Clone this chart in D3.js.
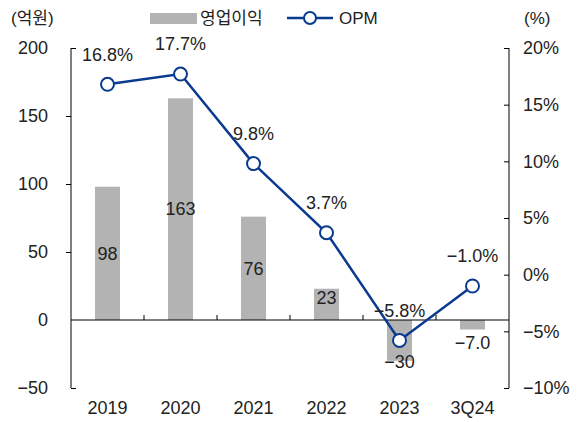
<!DOCTYPE html>
<html>
<head>
<meta charset="utf-8">
<script src="https://cdn.jsdelivr.net/npm/d3@7"></script>
<style>
  body { margin: 0; background: #fff; }
  text { font-family: "Liberation Sans", Arial, "Noto Sans CJK KR", sans-serif; fill: #222; }
</style>
</head>
<body>
<div id="chart"></div>
<script>
// 데이터
var categories = ["2019", "2020", "2021", "2022", "2023", "3Q24"];
var profit = [98, 163, 76, 23, -30, -7.0];          // 영업이익 (억원)
var profitLabels = ["98", "163", "76", "23", "\u221230", "\u22127.0"];
var opm = [16.8, 17.7, 9.8, 3.7, -5.8, -1.0];       // OPM (%)
var opmLabels = ["16.8%", "17.7%", "9.8%", "3.7%", "\u22125.8%", "\u22121.0%"];
var leftTicks = [200, 150, 100, 50, 0, -50];
var rightTicks = [20, 15, 10, 5, 0, -5, -10];

var W = 580, H = 422;
var blue = "#0a3a8f", gray = "#b3b3b3";
var fs = 18;

var svg = d3.select("#chart").append("svg").attr("width", W).attr("height", H);

var x = d3.scaleBand().domain(categories).range([71, 509]).padding(0);
var yL = d3.scaleLinear().domain([-50, 200]).range([388, 48]);
var yR = d3.scaleLinear().domain([-10, 20]).range([388, 48]);

function minus(v) { return String(v).replace("-", "\u2212"); }

// 막대
var barW = 25;
svg.selectAll("rect.bar").data(profit).enter().append("rect")
    .attr("class", "bar")
    .attr("x", function (d, i) { return x(categories[i]) + x.bandwidth() / 2 - barW / 2; })
    .attr("y", function (d) { return yL(Math.max(0, d)); })
    .attr("width", barW)
    .attr("height", function (d) { return Math.abs(yL(d) - yL(0)); })
    .attr("fill", gray);

// 막대 라벨
svg.selectAll("text.blab").data(profit).enter().append("text")
    .attr("class", "blab")
    .attr("x", function (d, i) { return x(categories[i]) + x.bandwidth() / 2; })
    .attr("y", function (d) {
        if (d > 0) {
            var h = yL(0) - yL(d);
            return h < 40 ? yL(d) + 9 : (yL(d) + yL(0)) / 2;
        }
        return d < -20 ? yL(d) + 1 : yL(d) + 13;
    })
    .attr("dy", "0.35em")
    .attr("text-anchor", "middle")
    .attr("font-size", fs)
    .text(function (d, i) { return profitLabels[i]; });

// 왼쪽 축
var axL = svg.append("g").attr("transform", "translate(71,0)")
    .call(d3.axisLeft(yL).tickValues(leftTicks).tickSize(5).tickPadding(18).tickFormat(minus));
axL.select(".domain").remove();
axL.selectAll(".tick line").attr("stroke", "#000")
    .attr("x2", function (d) { return (d == 200 || d == -50) ? 5 : (d == 0 ? 0 : -5); });
axL.selectAll(".tick text").attr("font-size", fs).attr("fill", "#222").attr("font-family", null);
svg.append("line").attr("x1", 71).attr("x2", 71).attr("y1", yL(200)).attr("y2", yL(-50)).attr("stroke", "#000");

// 오른쪽 축
var axR = svg.append("g").attr("transform", "translate(509,0)")
    .call(d3.axisRight(yR).tickValues(rightTicks).tickSize(5).tickPadding(9)
        .tickFormat(function (d) { return minus(d) + "%"; }));
axR.select(".domain").remove();
axR.selectAll(".tick line").attr("stroke", "#000").attr("x2", -5);
axR.selectAll(".tick text").attr("font-size", fs).attr("fill", "#222").attr("font-family", null);
svg.append("line").attr("x1", 509).attr("x2", 509).attr("y1", yR(20)).attr("y2", yR(-10)).attr("stroke", "#000");

// 가로축 (0선)
svg.append("line").attr("x1", 71).attr("x2", 509).attr("y1", yL(0)).attr("y2", yL(0)).attr("stroke", "#000");
categories.slice(1).forEach(function (c) {
    svg.append("line").attr("x1", x(c)).attr("x2", x(c))
        .attr("y1", yL(0)).attr("y2", yL(0) - 5).attr("stroke", "#000");
});
svg.selectAll("text.xlab").data(categories).enter().append("text")
    .attr("class", "xlab")
    .attr("x", function (d) { return x(d) + x.bandwidth() / 2; })
    .attr("y", 408).attr("dy", "0.35em")
    .attr("text-anchor", "middle").attr("font-size", fs)
    .text(function (d) { return d; });

// OPM 선
var line = d3.line()
    .x(function (d, i) { return x(categories[i]) + x.bandwidth() / 2; })
    .y(function (d) { return yR(d); });
svg.append("path").datum(opm).attr("d", line)
    .attr("fill", "none").attr("stroke", blue).attr("stroke-width", 2.5);
svg.selectAll("circle.pt").data(opm).enter().append("circle")
    .attr("class", "pt")
    .attr("cx", function (d, i) { return x(categories[i]) + x.bandwidth() / 2; })
    .attr("cy", function (d) { return yR(d); })
    .attr("r", 6.5)
    .attr("fill", "#fff").attr("stroke", blue).attr("stroke-width", 2);
svg.selectAll("text.olab").data(opm).enter().append("text")
    .attr("class", "olab")
    .attr("x", function (d, i) { return x(categories[i]) + x.bandwidth() / 2; })
    .attr("y", function (d) { return yR(d) - 30; })
    .attr("dy", "0.35em")
    .attr("text-anchor", "middle").attr("font-size", fs)
    .text(function (d, i) { return opmLabels[i]; });

// 단위
svg.append("text").attr("x", 11).attr("y", 18).attr("dy", "0.35em").attr("font-size", 17).text("(억원)");
svg.append("text").attr("x", 524).attr("y", 18).attr("dy", "0.35em").attr("font-size", 17).text("(%)");

// 범례
svg.append("rect").attr("x", 150).attr("y", 13).attr("width", 47).attr("height", 11).attr("fill", gray);
svg.append("text").attr("x", 200).attr("y", 18).attr("dy", "0.35em").attr("font-size", 17).text("영업이익");
svg.append("line").attr("x1", 287).attr("x2", 333).attr("y1", 18).attr("y2", 18)
    .attr("stroke", blue).attr("stroke-width", 2.5);
svg.append("circle").attr("cx", 310).attr("cy", 18).attr("r", 6)
    .attr("fill", "#fff").attr("stroke", blue).attr("stroke-width", 2);
svg.append("text").attr("x", 339).attr("y", 18).attr("dy", "0.35em").attr("font-size", 17).text("OPM");
</script>
</body>
</html>
